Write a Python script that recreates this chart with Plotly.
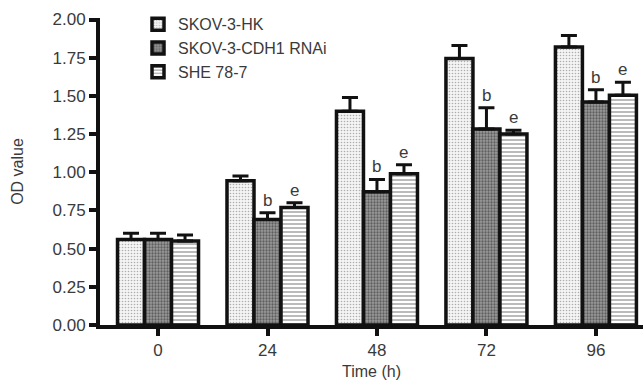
import plotly.graph_objects as go

times = ["0", "24", "48", "72", "96"]
series_names = ["SKOV-3-HK", "SKOV-3-CDH1 RNAi", "SHE 78-7"]
hk = [0.56, 0.945, 1.40, 1.745, 1.82]
hk_err = [0.04, 0.03, 0.09, 0.085, 0.075]
cdh1 = [0.56, 0.69, 0.873, 1.283, 1.46]
cdh1_err = [0.04, 0.045, 0.08, 0.14, 0.08]
she = [0.55, 0.77, 0.99, 1.25, 1.505]
she_err = [0.04, 0.03, 0.06, 0.025, 0.085]
cdh1_marks = ["", "b", "b", "b", "b"]
she_marks = ["", "e", "e", "e", "e"]

xpos = list(range(len(times)))
font_fam = "Liberation Sans, Arial, sans-serif"
txt_col = "#3a3a3a"

patterns = [
    dict(shape=".", fgcolor="#666666", bgcolor="#f4f4f4", size=3, solidity=0.22),
    dict(shape=".", fgcolor="#222222", bgcolor="#9a9a9a", size=3, solidity=0.45),
    dict(shape="-", fgcolor="#555555", bgcolor="#ffffff", size=4, solidity=0.4),
]

fig = go.Figure()
for name, vals, errs, pat in zip(series_names, [hk, cdh1, she], [hk_err, cdh1_err, she_err], patterns):
    fig.add_trace(go.Bar(
        x=xpos, y=vals, name=name,
        marker=dict(color="white", pattern=pat, line=dict(color="#111111", width=3.5)),
        error_y=dict(type="data", symmetric=False, array=errs, arrayminus=[0]*len(errs),
                     color="#111111", thickness=3, width=8),
    ))

ngroups = 3
bargap = 0.26
bw = (1 - bargap) / ngroups
for i, (v, e, m) in enumerate(zip(cdh1, cdh1_err, cdh1_marks)):
    if m:
        fig.add_annotation(x=i, y=v + e, text=m, showarrow=False, yanchor="bottom",
                           yshift=1, font=dict(size=17, color=txt_col, family=font_fam))
for i, (v, e, m) in enumerate(zip(she, she_err, she_marks)):
    if m:
        fig.add_annotation(x=i + bw, y=v + e, text=m, showarrow=False, yanchor="bottom",
                           yshift=1, font=dict(size=17, color=txt_col, family=font_fam))

fig.update_layout(
    width=643, height=383,
    margin=dict(l=100, r=0, t=18, b=58),
    barmode="group", bargap=bargap, bargroupgap=0,
    plot_bgcolor="white", paper_bgcolor="white",
    font=dict(family=font_fam, size=16, color=txt_col),
    showlegend=True,
    legend=dict(x=0.07, y=1.035, xanchor="left", yanchor="top",
                bgcolor="rgba(0,0,0,0)", font=dict(size=16, color=txt_col),
                itemwidth=30, tracegroupgap=2),
    xaxis=dict(
        tickmode="array", tickvals=xpos, ticktext=times,
        range=[-0.53, 4.43],
        showline=True, linecolor="#111111", linewidth=4,
        ticks="outside", ticklen=7, tickwidth=4, tickcolor="#111111",
        showgrid=False, zeroline=False,
        title=dict(text="Time (h)", font=dict(size=16, color=txt_col), standoff=7),
        tickfont=dict(size=17),
    ),
    yaxis=dict(
        range=[0, 2.01], tickmode="array",
        tickvals=[0, 0.25, 0.5, 0.75, 1.0, 1.25, 1.5, 1.75, 2.0],
        ticktext=["0.00", "0.25", "0.50", "0.75", "1.00", "1.25", "1.50", "1.75", "2.00"],
        showline=True, linecolor="#111111", linewidth=4,
        ticks="outside", ticklen=7, tickwidth=4, tickcolor="#111111",
        showgrid=False, zeroline=False,
        title=dict(text="OD value", font=dict(size=16, color=txt_col), standoff=26),
        tickfont=dict(size=17),
    ),
)

fig.write_html("out.html", config={"displayModeBar": False},
               post_script="document.body.style.margin='0';")
